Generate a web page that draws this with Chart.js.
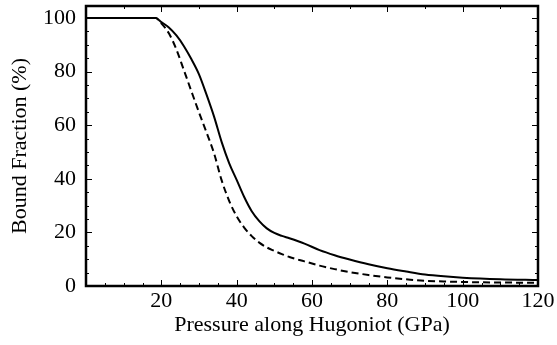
<!DOCTYPE html>
<html>
<head>
<meta charset="utf-8">
<script src="https://cdn.jsdelivr.net/npm/chart.js@4.4.0/dist/chart.umd.min.js"></script>
<style>
  html, body { margin: 0; padding: 0; background: #fff; }
  #wrap { width: 557px; height: 345px; }
</style>
</head>
<body>
<div id="wrap"><canvas id="chart"></canvas></div>
<script>
// pressure along the Hugoniot (GPa)
const pressure = [0, 18.5, 20, 22, 24, 26, 28, 30, 32, 34, 36, 38, 40, 42, 44, 46, 48, 50, 52, 54, 58, 62, 66, 70, 75, 80, 85, 90, 95, 100, 110, 120];
// bound fraction (%), solid curve
const boundSolid = [100, 100, 98.5, 96.5, 93.5, 89.5, 84.6, 79, 71.4, 63.2, 53.8, 45.9, 39.6, 33.2, 27.9, 24.2, 21.5, 19.8, 18.7, 17.8, 15.8, 13.4, 11.5, 9.9, 8.1, 6.6, 5.4, 4.3, 3.6, 3.1, 2.5, 2.2];
// bound fraction (%), dashed curve
const boundDashed = [100, 100, 98, 94.3, 88.3, 80.5, 72.6, 64.8, 57.3, 49.5, 39.5, 31.8, 26, 21.8, 18.6, 16.2, 14.4, 13.1, 11.9, 10.8, 9.2, 7.6, 6.3, 5.2, 4.1, 3.2, 2.5, 1.9, 1.7, 1.5, 1.3, 1.2];

const xTickLabels = [20, 40, 60, 80, 100, 120];
const yTickLabels = [0, 20, 40, 60, 80, 100];

const toPoints = ys => pressure.map((p, i) => ({ x: p, y: ys[i] }));

// inward tick marks + frame, drawn from the scales
const frameTicks = {
  id: 'frameTicks',
  afterDraw(chart) {
    const { ctx, chartArea: a, scales: { x, y } } = chart;
    ctx.save();
    ctx.strokeStyle = '#000';
    ctx.lineWidth = 1;
    for (let v = 5; v < 120; v += 5) {
      const px = Math.round(x.getPixelForValue(v)) + 0.5;
      const len = v % 20 === 0 ? 6 : 3;
      ctx.beginPath();
      ctx.moveTo(px, a.bottom); ctx.lineTo(px, a.bottom - len);
      if (v % 10 === 0) { ctx.moveTo(px, a.top); ctx.lineTo(px, a.top + len); }
      ctx.stroke();
    }
    for (let v = 5; v <= 100; v += 5) {
      const py = Math.round(y.getPixelForValue(v)) + 0.5;
      const len = v % 20 === 0 ? 6 : 3;
      ctx.beginPath();
      ctx.moveTo(a.left, py); ctx.lineTo(a.left + len, py);
      ctx.moveTo(a.right, py); ctx.lineTo(a.right - len, py);
      ctx.stroke();
    }
    ctx.lineWidth = 2.5;
    ctx.strokeRect(a.left, a.top, a.right - a.left, a.bottom - a.top);
    ctx.restore();
  }
};

const font = { family: '"Liberation Serif", "Times New Roman", serif', size: 22 };

new Chart(document.getElementById('chart'), {
  type: 'line',
  data: {
    datasets: [
      { data: toPoints(boundSolid), borderColor: '#000', borderWidth: 2, pointRadius: 0, cubicInterpolationMode: 'monotone' },
      { data: toPoints(boundDashed), borderColor: '#000', borderWidth: 2, borderDash: [7, 4], pointRadius: 0, cubicInterpolationMode: 'monotone' }
    ]
  },
  options: {
    responsive: true,
    maintainAspectRatio: false,
    animation: false,
    layout: { padding: { top: 6, right: 19, left: 0, bottom: 0 } },
    plugins: { legend: { display: false }, tooltip: { enabled: false } },
    scales: {
      x: {
        type: 'linear', min: 0, max: 120,
        afterBuildTicks: s => { s.ticks = xTickLabels.map(v => ({ value: v })); },
        afterFit: s => { s.height = 59; s.paddingLeft = 0; s.paddingRight = 0; },
        grid: { display: false, drawTicks: false },
        border: { display: false },
        ticks: { color: '#000', font, padding: 2, maxRotation: 0 },
        title: { display: true, text: 'Pressure along Hugoniot (GPa)', color: '#000', font, padding: { top: 0, bottom: 7 } }
      },
      y: {
        type: 'linear', min: 0, max: 104.5,
        afterBuildTicks: s => { s.ticks = yTickLabels.map(v => ({ value: v })); },
        afterFit: s => { s.width = 86; s.paddingTop = 0; s.paddingBottom = 0; },
        grid: { display: false, drawTicks: false },
        border: { display: false },
        ticks: { color: '#000', font, padding: 10 },
        title: { display: true, text: 'Bound Fraction (%)', color: '#000', font, padding: { top: 7, bottom: 0 } }
      }
    }
  },
  plugins: [frameTicks]
});
</script>
</body>
</html>
